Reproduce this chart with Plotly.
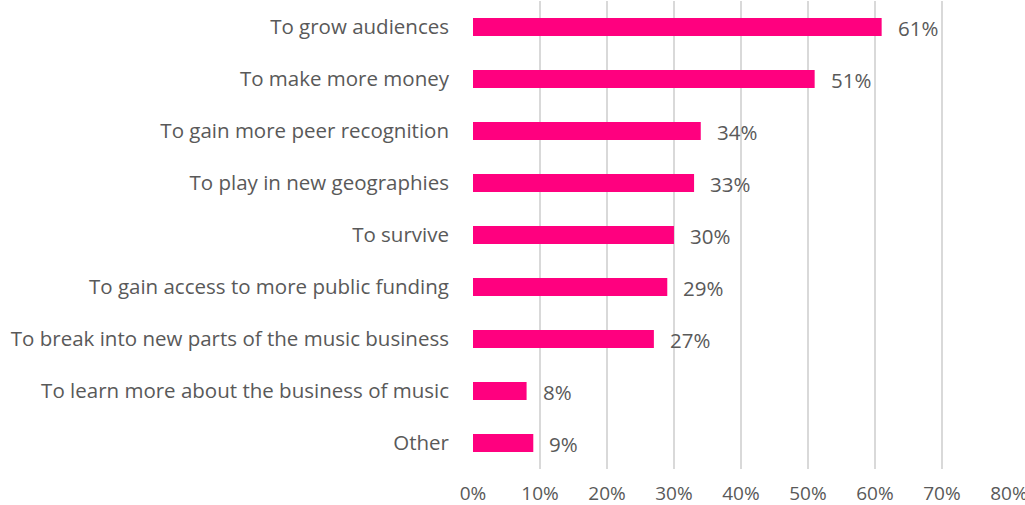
import plotly.graph_objects as go

categories = [
    "To grow audiences",
    "To make more money",
    "To gain more peer recognition",
    "To play in new geographies",
    "To survive",
    "To gain access to more public funding",
    "To break into new parts of the music business",
    "To learn more about the business of music",
    "Other",
]
values = [0.61, 0.51, 0.34, 0.33, 0.30, 0.29, 0.27, 0.08, 0.09]
tick_vals = [0, 0.1, 0.2, 0.3, 0.4, 0.5, 0.6, 0.7, 0.8]
tick_text = ["0%", "10%", "20%", "30%", "40%", "50%", "60%", "70%", "80%"]

FONT = "Open Sans"
GRAY = "#595959"

fig = go.Figure(go.Bar(
    y=categories,
    x=values,
    orientation="h",
    marker=dict(color="#FF007F", line=dict(width=0)),
    width=0.35,
    hoverinfo="skip",
))

for c, v in zip(categories, values):
    fig.add_annotation(
        x=v, y=c, text=f"{round(v*100)}%", showarrow=False,
        xanchor="left", xshift=14, yshift=-1,
        font=dict(family=FONT, size=20.5, color=GRAY),
    )

fig.update_layout(
    width=1025, height=505,
    margin=dict(l=473, r=16, t=1, b=36),
    paper_bgcolor="white", plot_bgcolor="white",
    showlegend=False,
    font=dict(family=FONT, size=20.5, color=GRAY),
)
fig.update_xaxes(
    range=[0, 0.8001], tickvals=tick_vals, ticktext=tick_text,
    showgrid=True, gridcolor="#D9D9D9", gridwidth=1.5,
    zeroline=False, showline=False, ticks="",
    automargin=False, ticklabelstandoff=11, ticklabeloverflow="allow",
    tickfont=dict(family=FONT, size=19, color=GRAY),
)
fig.update_yaxes(
    categoryorder="array", categoryarray=categories[::-1],
    range=[-0.5, 8.5], showgrid=False, zeroline=False, showline=False,
    ticks="", ticklabelstandoff=23, automargin=False,
    tickfont=dict(family=FONT, size=20.5, color=GRAY),
)

fig.write_html(
    "out.html",
    config={"displayModeBar": False, "staticPlot": True},
    post_script="document.body.style.margin='0px';document.body.style.overflow='hidden';",
)
